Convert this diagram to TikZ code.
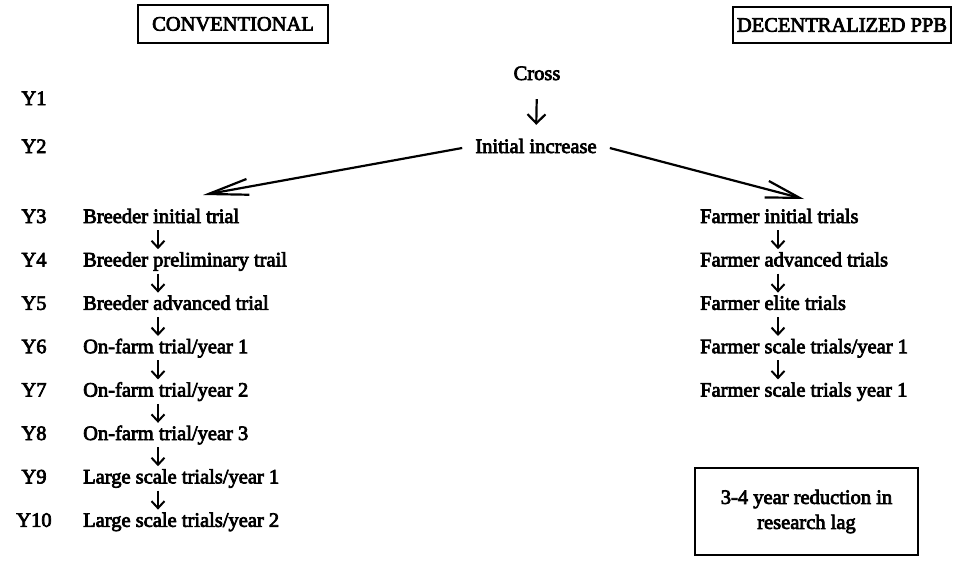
\documentclass[tikz,border=0pt]{standalone}
\usepackage{fontspec}
\setmainfont{Liberation Serif}[RawFeature={embolden=3.5}]
\usetikzlibrary{arrows.meta}
\begin{document}
\begin{tikzpicture}[x=1pt,y=-1pt,
  every node/.style={font=\fontsize{20.5}{25}\selectfont, inner sep=0pt},
  item/.style={anchor=west, text height=14pt, text depth=4pt},
  ylab/.style={text height=14pt, text depth=4pt},
  hdr/.style={draw, line width=1.6pt, inner sep=0pt},
  down/.style={-{Straight Barb[length=7pt,width=13pt]}, line width=2pt, shorten <=3pt, shorten >=3pt},
  bigL/.style={-{Straight Barb[length=40pt,width=16pt]}, line width=2.2pt},
  bigR/.style={-{Straight Barb[length=34pt,width=17pt]}, line width=2.2pt}
]
\useasboundingbox (0,0) rectangle (959,568);

% headers
\node[hdr, minimum width=190pt, minimum height=38pt] (conv) at (233,24) {CONVENTIONAL};
\node[hdr, minimum width=218pt, minimum height=36pt] (dec) at (842,25) {DECENTRALIZED PPB};

% year labels
\foreach \n/\y in {1/100,2/148,3/218,4/261.4,5/304.8,6/348.2,7/391.6,8/435,9/478.4,10/521.8}
  \node[ylab] (y\n) at (34,\y) {Y\n};

% top
\node[item, anchor=center] (cross) at (537,75) {Cross};
\node[item, anchor=center] (init) at (536,148) {Initial increase};
\draw[-{Straight Barb[length=9pt,width=18pt]}, line width=2.2pt, shorten <=15pt, shorten >=14pt] (cross.south) -- (init.north);

% conventional column
\node[item] (c3) at (83,218) {Breeder initial trial};
\node[item] (c4) at (83,261.4) {Breeder preliminary trail};
\node[item] (c5) at (83,304.8) {Breeder advanced trial};
\node[item] (c6) at (83,348.2) {On-farm trial/year 1};
\node[item] (c7) at (83,391.6) {On-farm trial/year 2};
\node[item] (c8) at (83,435) {On-farm trial/year 3};
\node[item] (c9) at (83,478.4) {Large scale trials/year 1};
\node[item] (c10) at (83,521.8) {Large scale trials/year 2};
\foreach \a/\b in {c3/c4,c4/c5,c5/c6,c6/c7,c7/c8,c8/c9,c9/c10}
  \draw[down] ([xshift=75pt]\a.south west) -- ([xshift=75pt]\b.north west);

% decentralized column
\node[item] (d3) at (700,218) {Farmer initial trials};
\node[item] (d4) at (700,261.4) {Farmer advanced trials};
\node[item] (d5) at (700,304.8) {Farmer elite trials};
\node[item] (d6) at (700,348.2) {Farmer scale trials/year 1};
\node[item] (d7) at (700,391.6) {Farmer scale trials year 1};
\foreach \a/\b in {d3/d4,d4/d5,d5/d6,d6/d7}
  \draw[down] ([xshift=78pt]\a.south west) -- ([xshift=78pt]\b.north west);

% branching arrows
\coordinate (tipL) at (203,195);
\coordinate (tipR) at (804,199);
\draw[bigL] ([xshift=-13pt]init.west) -- (tipL);
\draw[bigR] ([xshift=13pt]init.east) -- (tipR);

% result box
\node[hdr, minimum width=223pt, minimum height=87pt, align=center] (res) at (806.5,511.5) {3-4 year reduction in\\research lag};
\end{tikzpicture}
\end{document}
